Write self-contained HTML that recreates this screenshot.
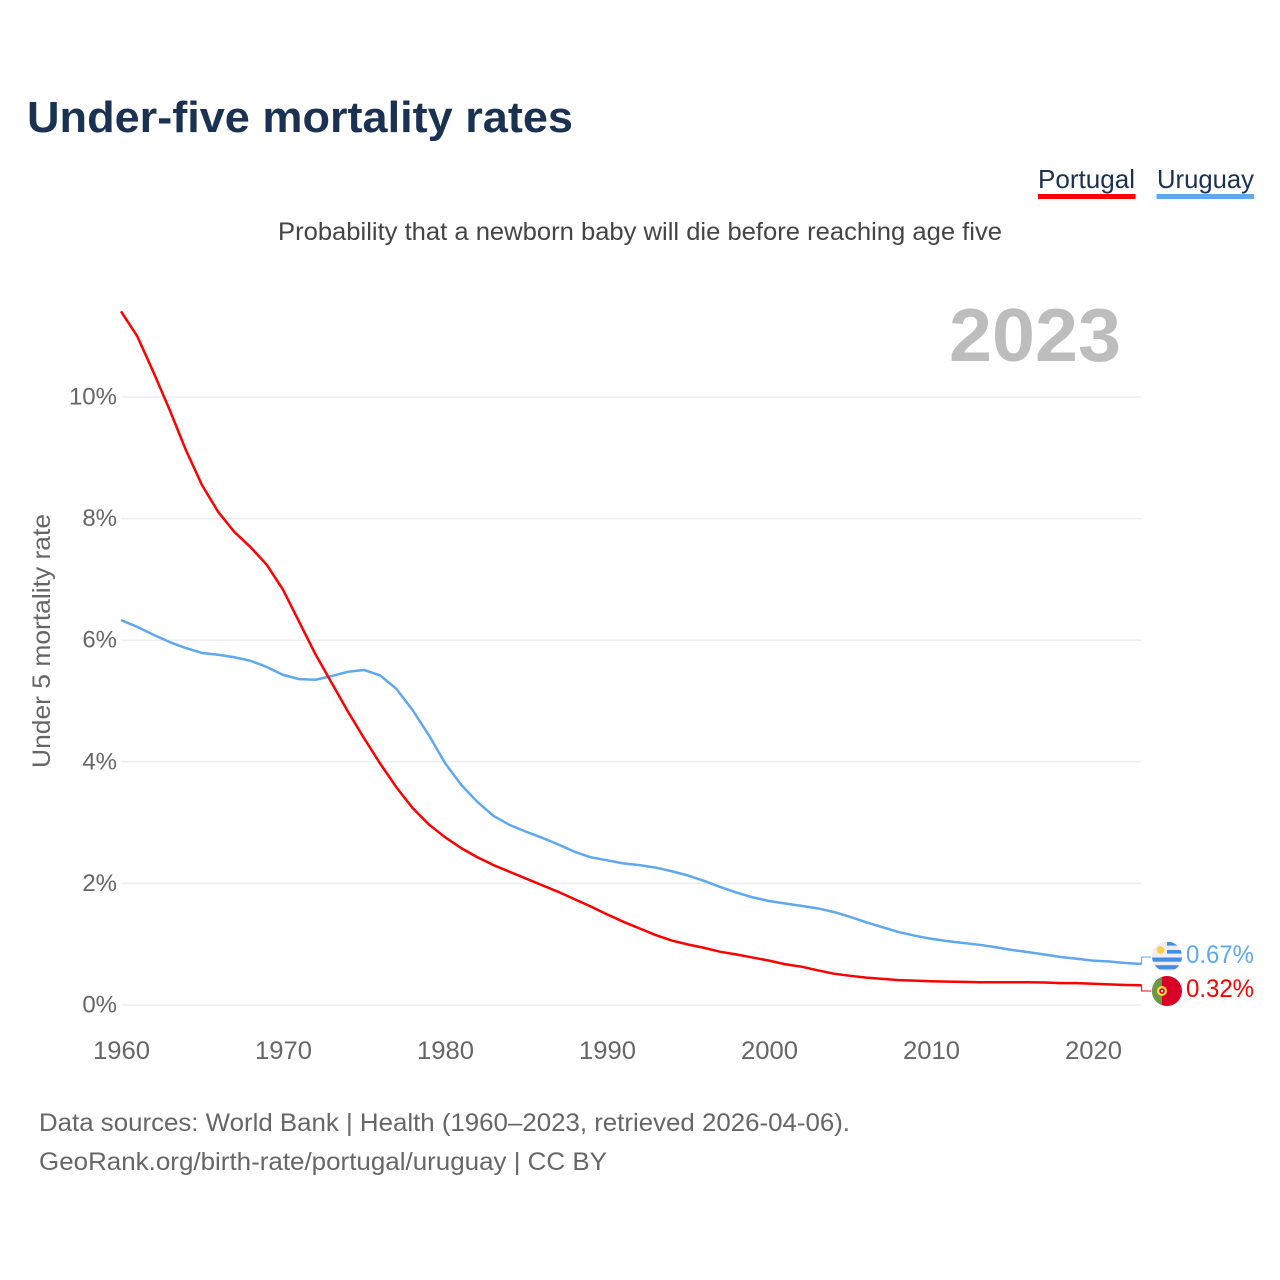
<!DOCTYPE html>
<html lang="en">
<head>
<meta charset="utf-8">
<title>Under-five mortality rates</title>
<style>
html,body{margin:0;padding:0;background:#fff;}
svg{display:block;font-family:"Liberation Sans",Arial,sans-serif;}
</style>
</head>
<body>
<svg id="chart" xmlns="http://www.w3.org/2000/svg" width="1280" height="1280" viewBox="0 0 1280 1280">
  <rect x="0" y="0" width="1280" height="1280" fill="#fff"/>
  <text x="27" y="132" font-size="44" font-weight="700" fill="#1a3152" textLength="546" lengthAdjust="spacingAndGlyphs">Under-five mortality rates</text>
  <text x="278" y="240" font-size="25" fill="#444" textLength="724" lengthAdjust="spacingAndGlyphs">Probability that a newborn baby will die before reaching age five</text>

  <g>
    <text x="1038" y="188" font-size="26" fill="#1a3152" textLength="97" lengthAdjust="spacingAndGlyphs">Portugal</text>
    <rect x="1038" y="194" width="97.500" height="5" fill="#ff0000"/>
  </g>
  <g>
    <text x="1157" y="188" font-size="26" fill="#1a3152" textLength="97" lengthAdjust="spacingAndGlyphs">Uruguay</text>
    <rect x="1156.500" y="194" width="97.500" height="5" fill="#5fa8f0"/>
  </g>

  <text x="949" y="361" font-size="75" font-weight="700" fill="#bdbdbd" textLength="172" lengthAdjust="spacingAndGlyphs">2023</text>

  <g id="grid"></g>
  <g id="yticks"></g>
  <g id="xticks"></g>
  <text transform="translate(50,641) rotate(-90)" text-anchor="middle" font-size="25" fill="#666" textLength="254" lengthAdjust="spacingAndGlyphs">Under 5 mortality rate</text>

  <path id="line-uruguay" fill="none" stroke="#5fa8f0" stroke-width="2.500" stroke-linejoin="round"/>
  <path id="line-portugal" fill="none" stroke="#ff0000" stroke-width="2.500" stroke-linejoin="round"/>
  <path id="connector-uruguay" fill="none" stroke="#5fa8f0" stroke-width="1"/>
  <path id="connector-portugal" fill="none" stroke="#ff0000" stroke-width="1"/>

  <g>
    <clipPath id="clip-uy"><circle cx="1167" cy="956.500" r="15"/></clipPath>
    <g clip-path="url(#clip-uy)">
      <rect x="1152" y="941" width="30" height="31" fill="#eeeeee"/>
      <rect x="1167" y="942" width="15" height="3.600" fill="#3f8eea"/>
      <rect x="1167" y="950" width="15" height="3.600" fill="#3f8eea"/>
      <rect x="1152" y="957.500" width="30" height="4.200" fill="#3f8eea"/>
      <rect x="1152" y="965.200" width="30" height="4.200" fill="#3f8eea"/>
      <circle cx="1160.500" cy="950" r="3.800" fill="#ffcf3f"/>
    </g>
  </g>
  <g>
    <clipPath id="clip-pt"><circle cx="1167" cy="991" r="15"/></clipPath>
    <g clip-path="url(#clip-pt)">
      <rect x="1152" y="976" width="30" height="30" fill="#d80027"/>
      <rect x="1152" y="976" width="10" height="30" fill="#6b9a45"/>
      <circle cx="1162" cy="991" r="5" fill="#ffda44"/>
      <circle cx="1162" cy="991" r="2.800" fill="#d80027"/>
      <circle cx="1162" cy="991" r="1.200" fill="#eeeeee"/>
    </g>
  </g>
  <text id="label-uruguay" x="1186" y="963" font-size="25" fill="#5fa8f0" textLength="68" lengthAdjust="spacingAndGlyphs"></text>
  <text id="label-portugal" x="1186" y="997" font-size="25" fill="#ff0000" textLength="68" lengthAdjust="spacingAndGlyphs"></text>

  <text x="39" y="1131" font-size="25" fill="#666" textLength="811" lengthAdjust="spacingAndGlyphs">Data sources: World Bank | Health (1960–2023, retrieved 2026-04-06).</text>
  <text x="39" y="1170" font-size="25" fill="#666" textLength="568" lengthAdjust="spacingAndGlyphs">GeoRank.org/birth-rate/portugal/uruguay | CC BY</text>
</svg>
<script>
const startYear = 1960;
const xTickYears = [1960, 1970, 1980, 1990, 2000, 2010, 2020];
const yTickValues = [0, 2, 4, 6, 8, 10];
const portugal = [
  11.41, 11.00, 10.41, 9.79, 9.13, 8.55, 8.11, 7.78, 7.53, 7.24,
  6.83, 6.30, 5.77, 5.30, 4.83, 4.39, 3.97, 3.58, 3.24, 2.97,
  2.76, 2.58, 2.43, 2.30, 2.19, 2.08, 1.97, 1.86, 1.74, 1.62,
  1.49, 1.37, 1.26, 1.15, 1.06, 0.995, 0.94, 0.875, 0.83, 0.78,
  0.73, 0.67, 0.63, 0.57, 0.515, 0.48, 0.45, 0.43, 0.41, 0.40,
  0.39, 0.385, 0.38, 0.375, 0.375, 0.375, 0.375, 0.37, 0.36, 0.36,
  0.35, 0.34, 0.33, 0.325
];
const uruguay = [
  6.33, 6.22, 6.09, 5.97, 5.87, 5.79, 5.76, 5.72, 5.66, 5.56,
  5.43, 5.36, 5.35, 5.41, 5.48, 5.51, 5.42, 5.20, 4.85, 4.44,
  3.98, 3.62, 3.34, 3.11, 2.96, 2.85, 2.75, 2.64, 2.52, 2.43,
  2.38, 2.33, 2.30, 2.26, 2.20, 2.13, 2.04, 1.94, 1.85, 1.77,
  1.71, 1.67, 1.63, 1.59, 1.53, 1.45, 1.36, 1.28, 1.20, 1.14,
  1.09, 1.05, 1.02, 0.99, 0.95, 0.905, 0.87, 0.83, 0.79, 0.76,
  0.73, 0.715, 0.69, 0.675
];
const portugalLabel = "0.32%";
const uruguayLabel = "0.67%";

const SVGNS = "http://www.w3.org/2000/svg";
function xScale(year) { return 121 + (year - 1960) * 16.2; }
function yScale(value) { return 1005 - value * 60.8; }
function linePath(values) {
  return values.map(function (v, i) {
    return (i ? "L" : "M") + xScale(startYear + i).toFixed(2) + " " + yScale(v).toFixed(2);
  }).join(" ");
}
function connectorPath(values, labelY) {
  const endX = xScale(startYear + values.length - 1);
  const endY = yScale(values[values.length - 1]);
  return "M" + endX.toFixed(2) + " " + endY.toFixed(2) + " V" + labelY + " H1151";
}

const gridGroup = document.getElementById("grid");
const yTickGroup = document.getElementById("yticks");
const xTickGroup = document.getElementById("xticks");

yTickValues.forEach(function (v) {
  const line = document.createElementNS(SVGNS, "line");
  
  
  line.setAttribute("x1", 121);
  line.setAttribute("x2", 1141.5);
  line.setAttribute("y1", yScale(v));
  line.setAttribute("y2", yScale(v));
  line.setAttribute("stroke", "#eeeeee");
  line.setAttribute("stroke-width", 1.5);
  gridGroup.appendChild(line);

  const label = document.createElementNS(SVGNS, "text");
  
  
  label.setAttribute("x", 117);
  label.setAttribute("y", yScale(v) + 7.5);
  label.setAttribute("text-anchor", "end");
  label.setAttribute("font-size", 24);
  label.setAttribute("fill", "#666");
  label.textContent = v + "%";
  yTickGroup.appendChild(label);
});

xTickYears.forEach(function (year) {
  const label = document.createElementNS(SVGNS, "text");
  
  
  label.setAttribute("x", xScale(year) + 0.5);
  label.setAttribute("y", 1059);
  label.setAttribute("text-anchor", "middle");
  label.setAttribute("font-size", 25);
  label.setAttribute("fill", "#666");
  label.setAttribute("textLength", 57);
  label.setAttribute("lengthAdjust", "spacingAndGlyphs");
  label.textContent = year;
  xTickGroup.appendChild(label);
});

document.getElementById("line-portugal").setAttribute("d", linePath(portugal));
document.getElementById("line-uruguay").setAttribute("d", linePath(uruguay));
document.getElementById("connector-portugal").setAttribute("d", connectorPath(portugal, 991));
document.getElementById("connector-uruguay").setAttribute("d", connectorPath(uruguay, 957));
document.getElementById("label-portugal").textContent = portugalLabel;
document.getElementById("label-uruguay").textContent = uruguayLabel;
</script>
</body>
</html>
